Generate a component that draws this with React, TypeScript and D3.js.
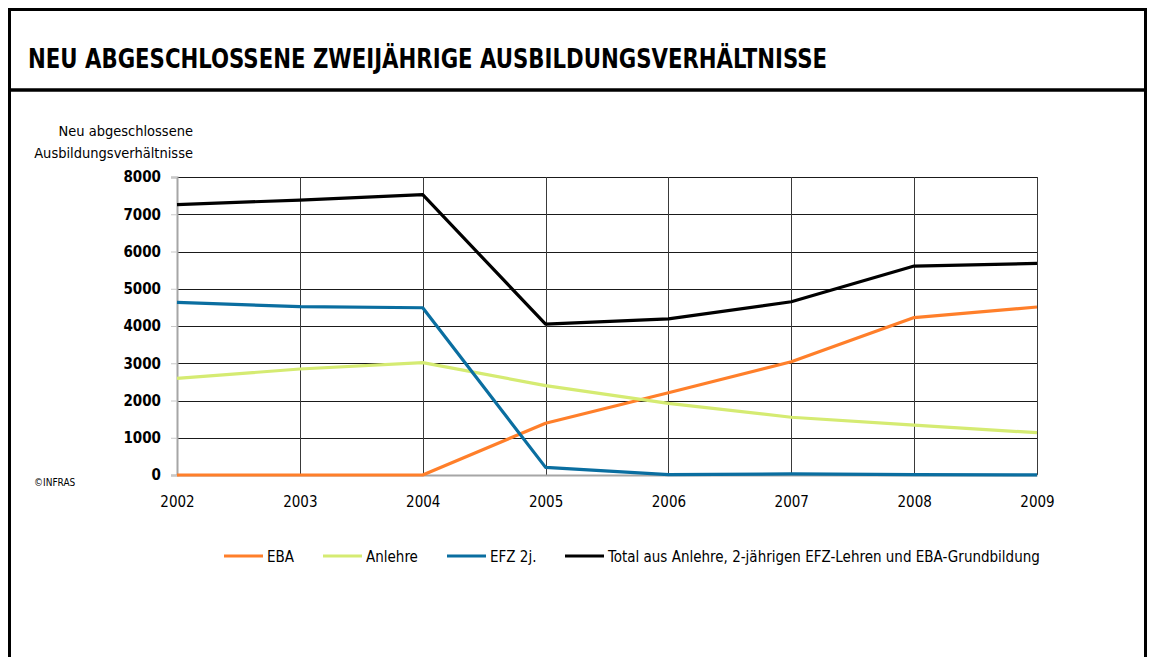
import React, { useEffect, useRef } from "react";
import * as d3 from "d3";

const years = [2002, 2003, 2004, 2005, 2006, 2007, 2008, 2009];
const eba = [0, 0, 0, 1390, 2210, 3040, 4225, 4510];
const anlehre = [2595, 2845, 3015, 2400, 1925, 1550, 1340, 1135];
const efz = [4635, 4520, 4490, 205, 10, 30, 10, 5];
const total = [7260, 7380, 7525, 4050, 4190, 4650, 5610, 5680];
const yTicks = [0, 1000, 2000, 3000, 4000, 5000, 6000, 7000, 8000];

const series = [
  { name: "EBA", values: eba, color: "#FF7F2A" },
  { name: "Anlehre", values: anlehre, color: "#D5EB72" },
  { name: "EFZ 2j.", values: efz, color: "#0A6EA0" },
  { name: "Total aus Anlehre, 2-jährigen EFZ-Lehren und EBA-Grundbildung", values: total, color: "#000000" },
];
const legendX = [224, 323, 447, 565];

const FONT = "'DejaVu Sans Condensed', 'DejaVu Sans', sans-serif";

export default function App() {
  const svgRef = useRef(null);

  useEffect(() => {
    const svg = d3.select(svgRef.current);
    svg.selectAll("*").remove();
    const W = 1153;
    const H = 657;
    const left = 177, right = 1037, top = 177, bottom = 475;

    svg.append("rect").attr("width", W).attr("height", H).attr("fill", "#fff");

    // frame
    svg.append("path")
      .attr("d", `M9.5,${H + 5} V9.5 H1145.5 V${H + 5}`)
      .attr("fill", "none").attr("stroke", "#000").attr("stroke-width", 3);
    svg.append("line")
      .attr("x1", 9).attr("x2", 1146).attr("y1", 90).attr("y2", 90)
      .attr("stroke", "#000").attr("stroke-width", 3.5);

    svg.append("text")
      .attr("x", 28).attr("y", 68)
      .attr("font-family", FONT).attr("font-weight", "bold").attr("font-size", 27)
      .attr("textLength", 799).attr("lengthAdjust", "spacingAndGlyphs")
      .text("NEU ABGESCHLOSSENE ZWEIJÄHRIGE AUSBILDUNGSVERHÄLTNISSE");

    const x = d3.scaleLinear().domain([2002, 2009]).range([left, right]);
    const y = d3.scaleLinear().domain([0, 8000]).range([bottom, top]);

    // horizontal grid
    svg.append("g").selectAll("line").data(yTicks.filter((d) => d > 0)).join("line")
      .attr("x1", left).attr("x2", right)
      .attr("y1", (d) => Math.round(y(d)) + 0.5).attr("y2", (d) => Math.round(y(d)) + 0.5)
      .attr("stroke", "#1a1a1a").attr("stroke-width", 1);
    // vertical grid
    svg.append("g").selectAll("line").data(years.slice(1)).join("line")
      .attr("x1", (d) => Math.round(x(d)) + 0.5).attr("x2", (d) => Math.round(x(d)) + 0.5)
      .attr("y1", top).attr("y2", bottom)
      .attr("stroke", "#3a3a3a").attr("stroke-width", 1);

    // axes
    const yAxis = svg.append("g").attr("transform", `translate(${left},0)`)
      .call(d3.axisLeft(y).tickValues(yTicks).tickSize(6).tickPadding(10).tickFormat(d3.format("d")));
    yAxis.select(".domain").attr("stroke", "#A6A6A6").attr("stroke-width", 2);
    yAxis.selectAll(".tick line").attr("stroke", "#C8C8C8");
    yAxis.selectAll(".tick text")
      .attr("font-family", FONT).attr("font-weight", "bold").attr("font-size", 15).attr("fill", "#000");

    const xAxis = svg.append("g").attr("transform", `translate(0,${bottom})`)
      .call(d3.axisBottom(x).tickValues(years).tickSize(0).tickPadding(21).tickFormat(d3.format("d")));
    xAxis.select(".domain").attr("stroke", "#A6A6A6").attr("stroke-width", 2);
    xAxis.selectAll(".tick text")
      .attr("font-family", FONT).attr("font-size", 15).attr("fill", "#000");

    // lines
    const line = d3.line<number>().x((_, i) => x(years[i])).y((d) => y(d));
    series.forEach((s) => {
      svg.append("path").datum(s.values)
        .attr("d", line).attr("fill", "none")
        .attr("stroke", s.color).attr("stroke-width", 3.2)
        .attr("stroke-linejoin", "round");
    });

    // y axis title
    const yt = svg.append("text").attr("font-family", FONT).attr("font-size", 14.5).attr("text-anchor", "end");
    yt.append("tspan").attr("x", 193).attr("y", 136).text("Neu abgeschlossene");
    yt.append("tspan").attr("x", 193).attr("y", 158).text("Ausbildungsverhältnisse");

    svg.append("text").attr("x", 34).attr("y", 486)
      .attr("font-family", FONT).attr("font-size", 10).text("©INFRAS");

    // legend
    const lg = svg.append("g").selectAll("g").data(series).join("g")
      .attr("transform", (_, i) => `translate(${legendX[i]},556)`);
    lg.append("line").attr("x1", 0).attr("x2", 39).attr("stroke", (d) => d.color).attr("stroke-width", 3.2);
    lg.append("text").attr("x", 43).attr("y", 6)
      .attr("font-family", FONT).attr("font-size", 15).text((d) => d.name);
  }, []);

  return <svg ref={svgRef} width={1153} height={657} style={{ position: "absolute", left: 0, top: 0 }} />;
}
